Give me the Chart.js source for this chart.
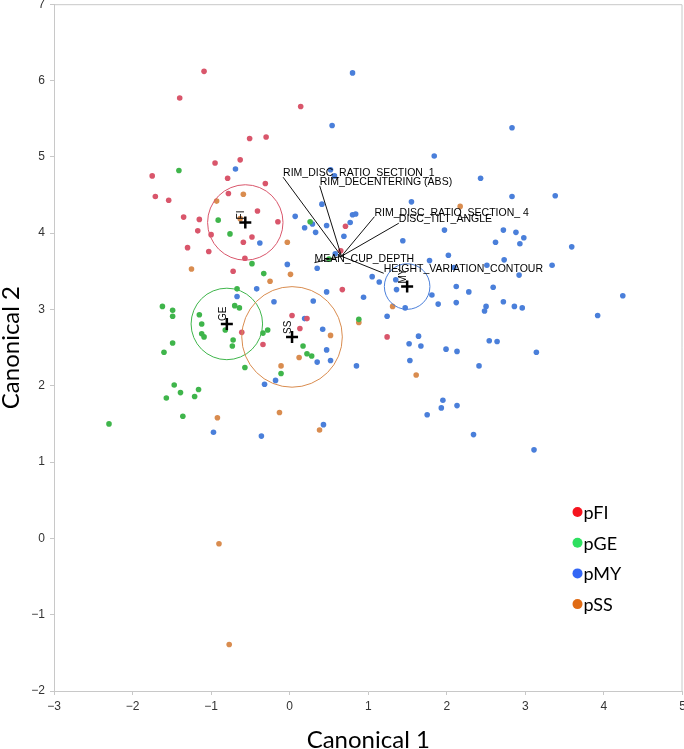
<!DOCTYPE html>
<html>
<head>
<meta charset="utf-8">
<script src="https://cdn.jsdelivr.net/npm/chart.js@4.4.1/dist/chart.umd.min.js"></script>
<style>
  html, body { margin: 0; padding: 0; background: #fff; overflow: hidden; }
  /* chart.js keeps ~12px above the plot for the top tick label; pull the canvas up to match */
  #wrap { width: 691px; height: 757px; position: absolute; left: 0; top: -8px; }
</style>
</head>
<body>
<div id="wrap"><canvas id="chart"></canvas></div>
<script>
// series names + colours
var seriesNames = ['pFI', 'pGE', 'pMY', 'pSS'];
var pointColors = ['#d9566b', '#3fb54b', '#4a7fda', '#d98c4f'];
var legendColors = ['#f5141e', '#2ee060', '#3366f5', '#e06b14'];

// pFI
var fiX = [-1.09, -1.40, 0.14, -0.51, -0.30, -0.95, -0.63, -1.75, -0.79, -0.31, -1.71, -1.54, -0.78, -1.35, -1.15, -0.41, -0.15, -1.17, -1.00, -0.48, -0.59, -1.30, -1.03, -0.57, -0.72, -0.61, 0.03, 0.22, 0.13, -0.34, 0.67, 0.65, 1.24, 0.71];
var fiY = [6.12, 5.77, 5.66, 5.24, 5.26, 4.92, 4.96, 4.75, 4.72, 4.65, 4.48, 4.43, 4.52, 4.21, 4.18, 4.29, 4.15, 4.03, 3.98, 3.95, 3.88, 3.81, 3.76, 3.67, 3.50, 2.70, 2.92, 2.88, 2.75, 2.54, 3.26, 3.77, 2.64, 4.09];

// pGE
var geX = [-1.41, -0.91, -0.76, 0.26, -0.48, -0.33, -0.67, -1.62, -1.49, -1.49, -1.15, -0.70, -0.64, -1.12, -1.12, -1.09, -0.82, -0.72, -0.73, -1.49, -1.60, -0.34, -0.28, -0.57, 0.17, 0.22, 0.28, -0.11, -1.47, -1.57, -1.39, -1.21, -1.16, -1.36, -2.30, 0.88, 0.50];
var geY = [4.82, 4.17, 3.99, 4.15, 3.60, 3.47, 3.27, 3.04, 2.99, 2.91, 2.93, 3.05, 3.02, 2.81, 2.68, 2.64, 2.73, 2.60, 2.52, 2.56, 2.44, 2.69, 2.73, 2.24, 2.52, 2.42, 2.39, 2.16, 2.01, 1.84, 1.91, 1.86, 1.95, 1.60, 1.50, 2.87, 3.66];

// pMY
var myX = [-0.69, 0.54, 0.07, 0.19, 0.33, 0.29, 0.41, 0.47, 0.69, -0.38, 0.52, 0.57, 0.58,
  0.80, 2.83, 1.84, 2.43, 2.83, 3.38, 1.55, 0.80, 0.84, 0.77, 1.97, 1.44, 2.72, 2.88, 2.98, 2.62, 2.93, 3.59,
  2.02, 1.78, 2.73, 2.51, 3.34, 2.09, 2.92, 1.05, 1.14, 1.35, 1.36, 2.12, 2.59, 4.24, 1.81, 2.28, 0.94, 1.89, 2.12, 2.72, 1.47, 2.50, 2.48, 2.86, 2.96, 3.92, 1.24,
  1.64, 1.52, 1.67, 1.99, 2.13, 2.54, 2.64, 3.14, 1.53, 0.85, 2.41, 1.95, 1.93, 2.13, 1.75, 2.34, 3.11,
  -0.03, 0.35, -0.42, -0.67, 0.47, -0.20, 0.30, 0.19, 0.42, 0.47, 0.52, 0.35, -0.18, -0.32, 0.43, -0.97, -0.36];
var myY = [4.84, 5.41, 4.22, 4.07, 4.01, 4.12, 4.38, 4.10, 3.96, 3.87, 4.83, 4.75, 3.73,
  6.10, 5.38, 5.01, 4.72, 4.48, 4.49, 4.41, 4.24, 4.25, 4.14, 4.04, 3.90, 4.04, 4.01, 3.94, 3.88, 3.86, 3.82,
  3.71, 3.64, 3.65, 3.58, 3.58, 3.55, 3.45, 3.43, 3.36, 3.39, 3.26, 3.30, 3.29, 3.18, 3.19, 3.23, 3.16, 3.07, 3.09, 3.10, 3.02, 3.04, 2.98, 3.04, 3.02, 2.92, 2.91,
  2.65, 2.55, 2.52, 2.48, 2.45, 2.59, 2.58, 2.44, 2.33, 2.26, 2.26, 1.81, 1.71, 1.74, 1.62, 1.36, 1.16,
  3.59, 3.54, 3.27, 3.17, 3.23, 3.10, 3.11, 2.88, 2.74, 2.47, 2.33, 2.31, 2.07, 2.02, 1.49, 1.39, 1.34];

// pSS
var ssX = [2.17, 1.31, 0.88, 1.61, -1.25, 0.01, -0.25, 0.52, 0.12, -0.11, -0.92, -0.13, 0.38, -0.93, -0.59, -0.03, -0.63, -0.90, -0.77];
var ssY = [4.35, 3.04, 2.83, 2.14, 3.53, 3.46, 3.37, 2.66, 2.37, 2.26, 1.58, 1.65, 1.42, 4.42, 4.51, 3.88, 4.19, -0.07, -1.39];

// group means and their circles
var groupNames = ['FI', 'GE', 'MY', 'SS'];
var meanX = [-0.565, -0.80, 1.495, 0.03];
var meanY = [4.14, 2.81, 3.30, 2.64];
var circleR = [0.48, 0.455, 0.29, 0.64];

// biplot rays
var rayOrigin = [0.659, 3.697];
var rayNames = ['RIM_DISC_RATIO_SECTION_1', 'RIM_DECENTERING (ABS)', 'RIM_DISC_RATIO_SECTION_ 4', 'DISC_TILT_ANGLE', 'MEAN_CUP_DEPTH', 'HEIGHT_VARIATION_CONTOUR'];
var rayEndX = [-0.084, 0.382, 1.079, 1.389, 0.315, 1.197];
var rayEndY = [4.733, 4.62, 4.216, 4.13, 3.613, 3.474];

var xTicks = [-3, -2, -1, 0, 1, 2, 3, 4, 5];
var yTicks = [-2, -1, 0, 1, 2, 3, 4, 5, 6, 7];

function toPoints(xs, ys) {
    return xs.map(function (x, i) { return {x: x, y: ys[i]}; });
}

var groupX = [fiX, geX, myX, ssX];
var groupY = [fiY, geY, myY, ssY];

var datasets = [];

seriesNames.forEach(function (name, i) {
    datasets.push({
        label: name,
        data: toPoints(groupX[i], groupY[i]),
        backgroundColor: pointColors[i],
        borderWidth: 0,
        pointRadius: 2.8,
        order: 5
    });
});

rayNames.forEach(function (name, i) {
    datasets.push({
        label: name,
        data: [{x: rayOrigin[0], y: rayOrigin[1]}, {x: rayEndX[i], y: rayEndY[i]}],
        showLine: true,
        borderColor: '#111',
        borderWidth: 1,
        pointRadius: 0,
        order: 2
    });
});

datasets.push({
    label: 'means',
    data: toPoints(meanX, meanY),
    pointStyle: 'cross',
    pointRadius: 6,
    borderColor: '#000',
    borderWidth: 2.5,
    order: 1
});

var fmt = function (v) {
    return v < 0 ? '\u2212' + Math.abs(v) : String(v);
};

var overlay = {
    id: 'overlay',
    afterDatasetsDraw: function (chart) {
        var c = chart.ctx;
        var xs = chart.scales.x, ys = chart.scales.y;
        var area = chart.chartArea;

        c.save();
        // frame top + right
        c.strokeStyle = '#c8c8c8';
        c.lineWidth = 1;
        c.beginPath();
        c.moveTo(area.left, area.top + 0.5);
        c.lineTo(area.right - 0.5, area.top + 0.5);
        c.lineTo(area.right - 0.5, area.bottom);
        c.stroke();

        // circles round the group means
        for (var i = 0; i < groupNames.length; i++) {
            var px = xs.getPixelForValue(meanX[i]);
            var py = ys.getPixelForValue(meanY[i]);
            var r = xs.getPixelForValue(meanX[i] + circleR[i]) - px;
            c.strokeStyle = pointColors[i];
            c.lineWidth = 1;
            c.beginPath();
            c.arc(px, py, r, 0, Math.PI * 2);
            c.stroke();

            // rotated group label
            c.save();
            c.translate(px - 1, py - 3);
            c.rotate(-Math.PI / 2);
            c.fillStyle = '#000';
            c.font = '10px "Liberation Sans"';
            c.textAlign = 'left';
            c.textBaseline = 'alphabetic';
            c.fillText(groupNames[i], 0, 0);
            c.restore();
        }

        // ray labels
        c.fillStyle = '#000';
        c.font = '10.5px "Liberation Sans"';
        c.textAlign = 'left';
        c.textBaseline = 'alphabetic';
        for (var k = 0; k < rayNames.length; k++) {
            c.fillText(rayNames[k], xs.getPixelForValue(rayEndX[k]), ys.getPixelForValue(rayEndY[k]) - 1);
        }

        // legend, bottom right inside plot
        c.font = '18px Lato';
        c.textBaseline = 'middle';
        var lx = area.right - 105, ly0 = area.bottom - 179;
        for (var j = 0; j < seriesNames.length; j++) {
            var ly = ly0 + j * 30.7;
            c.fillStyle = legendColors[j];
            c.beginPath();
            c.arc(lx, ly, 5, 0, Math.PI * 2);
            c.fill();
            c.fillStyle = '#000';
            c.fillText(seriesNames[j], lx + 6, ly + 1);
        }
        c.restore();
    }
};

new Chart(document.getElementById('chart'), {
    type: 'scatter',
    data: {datasets: datasets},
    options: {
        responsive: true,
        maintainAspectRatio: false,
        animation: false,
        layout: {padding: {top: 4, right: 0, left: 0, bottom: 0}},
        plugins: {
            legend: {display: false},
            tooltip: {enabled: false}
        },
        scales: {
            x: {
                type: 'linear',
                min: -3,
                max: 5,
                afterBuildTicks: function (s) { s.ticks = xTicks.map(function (v) { return {value: v}; }); },
                ticks: {
                    callback: fmt,
                    color: '#333',
                    font: {family: '"Liberation Sans"', size: 12},
                    padding: 4,
                    maxRotation: 0
                },
                grid: {drawOnChartArea: false, tickLength: 4, color: '#c8c8c8'},
                border: {color: '#c8c8c8'},
                title: {
                    display: true,
                    text: 'Canonical 1',
                    color: '#000',
                    font: {family: 'Lato', size: 24, lineHeight: '18px'},
                    padding: 0
                },
                afterFit: function (s) {
                    s.height = 58;
                }
            },
            y: {
                type: 'linear',
                min: -2,
                max: 7,
                afterBuildTicks: function (s) { s.ticks = yTicks.map(function (v) { return {value: v}; }); },
                ticks: {
                    callback: fmt,
                    color: '#333',
                    font: {family: '"Liberation Sans"', size: 12},
                    padding: 5
                },
                grid: {drawOnChartArea: false, tickLength: 4, color: '#c8c8c8'},
                border: {color: '#c8c8c8'},
                title: {
                    display: true,
                    text: 'Canonical 2',
                    color: '#000',
                    font: {family: 'Lato', size: 24, lineHeight: '22px'},
                    padding: 0
                },
                afterFit: function (s) {
                    s.width = 54;
                }
            }
        }
    },
    plugins: [overlay]
});
</script>
</body>
</html>
